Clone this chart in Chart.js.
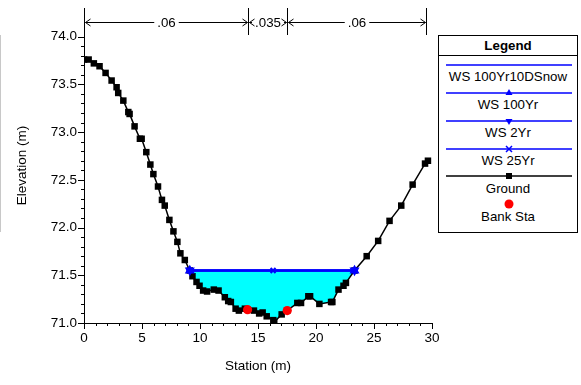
<!DOCTYPE html>
<html>
<head>
<meta charset="utf-8">
<script src="https://cdn.jsdelivr.net/npm/chart.js@4/dist/chart.umd.min.js"></script>
<style>
  html, body { margin: 0; padding: 0; background: #fff; }
  #wrap { position: relative; width: 581px; height: 385px; overflow: hidden;
          font-family: "Liberation Sans", Arial, sans-serif; color: #000; }
  #c { position: absolute; left: 0; top: 0; }
  #edge { position: absolute; left: 0; top: 35px; width: 1px; height: 197px; background: #c8c8c8; }
  #legend { position: absolute; left: 438px; top: 35px; width: 140px; height: 198px;
            box-sizing: border-box; border: 1px solid #000; background: #fff; }
  #legend .title { position: absolute; left: 0; top: 0; width: 100%; height: 20px; line-height: 19px;
                   text-align: center; font-weight: bold; font-size: 13.3px; border-bottom: 1px solid #000;
                   box-sizing: border-box; }
  #legend .item { position: absolute; left: 0; width: 100%; text-align: center; font-size: 13.3px;
                  line-height: 16px; white-space: nowrap; }
  #legend svg { position: absolute; left: 0; top: 0; }
</style>
</head>
<body>
<div id="wrap">
  <canvas id="c" width="581" height="385"></canvas>
  <div id="edge"></div>
  <div id="legend"><div class="title">Legend</div></div>
</div>
<script>
// Ground profile: station (m) and elevation (m)
const stations = [
  0.0, 0.4, 0.85, 1.34, 1.86, 2.38, 2.81, 2.95, 3.39, 3.82, 3.93, 4.36, 4.82, 4.97,
  5.37, 5.72, 5.98, 6.38, 6.72, 6.96, 7.36, 7.71, 8.05, 8.31, 8.69, 9.12, 9.35, 9.70,
  9.96, 10.27, 10.61, 11.19, 11.60, 12.14, 12.43, 12.66, 13.07, 13.35, 13.87, 14.10,
  14.65, 15.10, 15.40, 15.75, 16.32, 16.40, 17.04, 17.52, 18.39, 18.71, 19.34, 19.49,
  20.29, 21.30, 21.41, 21.94, 22.37, 22.58, 23.32, 24.37, 25.36, 26.34, 27.35, 28.33,
  29.40, 29.65
];
const elevations = [
  73.76, 73.76, 73.72, 73.69, 73.62, 73.54, 73.47, 73.41, 73.33, 73.21, 73.19, 73.06, 72.93, 72.93,
  72.79, 72.66, 72.56, 72.43, 72.29, 72.23, 72.08, 71.96, 71.85, 71.73, 71.66, 71.55, 71.49, 71.43,
  71.39, 71.34, 71.33, 71.35, 71.34, 71.27, 71.23, 71.22, 71.15, 71.13, 71.15, 71.14,
  71.13, 71.10, 71.11, 71.07, 71.03, 71.01, 71.09, 71.13, 71.21, 71.21, 71.28, 71.28,
  71.20, 71.22, 71.22, 71.35, 71.39, 71.42, 71.55, 71.70, 71.86, 72.07, 72.23, 72.45,
  72.67, 72.70
];

// Bank stations
const bankStations = [14.10, 17.52];
const bankElevations = [71.14, 71.13];

// Water surface (all profiles coincide)
const wsStations = [9.12, 16.30, 23.32];
const wsElevations = [71.55, 71.55, 71.55];

// Manning's n zones
const nStations = [0, 14.10, 17.52, 29.5];
const nValues = ['.06', '.035', '.06'];

// Axis ticks
const xTicks = [0, 5, 10, 15, 20, 25, 30];
const yTicks = [71.0, 71.5, 72.0, 72.5, 73.0, 73.5, 74.0];

const seriesNames = ['WS 100Yr10DSnow', 'WS 100Yr', 'WS 2Yr', 'WS 25Yr', 'Ground', 'Bank Sta'];

const BLUE = '#0000ff';
const FONT = '"Liberation Sans", Arial, sans-serif';

const pts = (xs, ys) => xs.map((v, i) => ({ x: v, y: ys[i] }));

// Minor/major tick marks and the Manning's n bar across the top
const decorations = {
  id: 'decorations',
  afterDraw(chart) {
    const { ctx, chartArea: a } = chart;
    const x = chart.scales.x, y = chart.scales.y;
    ctx.save();
    ctx.strokeStyle = '#000';
    ctx.lineWidth = 1;
    ctx.beginPath();
    for (let v = xTicks[0]; v <= xTicks[xTicks.length - 1]; v += 1) {
      const px = Math.round(x.getPixelForValue(v)) + 0.5;
      const len = (v % 5 === 0) ? 6 : 3;
      ctx.moveTo(px, a.bottom);
      ctx.lineTo(px, a.bottom + len);
    }
    const y0 = yTicks[0], y1 = yTicks[yTicks.length - 1];
    const steps = Math.round((y1 - y0) / 0.1);
    for (let k = 0; k <= steps; k++) {
      const py = Math.round(y.getPixelForValue(y0 + k * 0.1)) + 0.5;
      const len = (k % 5 === 0) ? 6 : 3;
      ctx.moveTo(a.left, py);
      ctx.lineTo(a.left - len, py);
    }
    ctx.stroke();

    // Manning's n zones
    const lineY = 22.5;
    ctx.font = '13.3px ' + FONT;
    ctx.fillStyle = '#000';
    ctx.textAlign = 'center';
    ctx.textBaseline = 'middle';
    ctx.beginPath();
    const nPx = nStations.map(s => Math.round(x.getPixelForValue(s)) + 0.5);
    nPx.forEach(px => { ctx.moveTo(px, 8); ctx.lineTo(px, 35); });
    for (let i = 0; i < nValues.length; i++) {
      const x0 = nPx[i], x1 = nPx[i + 1];
      const mid = (x0 + x1) / 2;
      const w = ctx.measureText(nValues[i]).width;
      const gap = w / 2 + 3;
      if (mid - gap > x0 + 2) {
        ctx.moveTo(x0 + 1, lineY); ctx.lineTo(mid - gap, lineY);
        ctx.moveTo(mid + gap, lineY); ctx.lineTo(x1 - 1, lineY);
      }
      ctx.moveTo(x0 + 6, lineY - 3.5); ctx.lineTo(x0 + 1, lineY); ctx.lineTo(x0 + 6, lineY + 3.5);
      ctx.moveTo(x1 - 6, lineY - 3.5); ctx.lineTo(x1 - 1, lineY); ctx.lineTo(x1 - 6, lineY + 3.5);
      ctx.fillText(nValues[i], mid, lineY + 1);
    }
    ctx.stroke();
    ctx.restore();
  }
};

const chart = new Chart(document.getElementById('c'), {
  type: 'scatter',
  data: {
    datasets: [
      {
        label: seriesNames[5], data: pts(bankStations, bankElevations),
        showLine: false, pointStyle: 'circle', pointRadius: 4.6,
        backgroundColor: '#ff0000', borderColor: '#ff0000', borderWidth: 0, order: 0
      },
      {
        label: seriesNames[3], data: pts(wsStations, wsElevations),
        showLine: true, borderColor: BLUE, borderWidth: 2, backgroundColor: BLUE,
        pointStyle: 'crossRot', pointRadius: [0, 3.5, 0], pointBorderWidth: 2, order: 1
      },
      {
        label: seriesNames[2], data: pts(wsStations, wsElevations),
        showLine: true, borderColor: BLUE, borderWidth: 2, backgroundColor: BLUE,
        pointStyle: 'triangle', rotation: 180, pointRadius: [3.8, 0, 3.8], order: 2
      },
      {
        label: seriesNames[1], data: pts(wsStations, wsElevations),
        showLine: true, borderColor: BLUE, borderWidth: 2, backgroundColor: BLUE,
        pointStyle: 'triangle', pointRadius: [3.8, 0, 3.8], order: 3
      },
      {
        label: seriesNames[4], data: pts(stations, elevations),
        showLine: true, borderColor: '#000', borderWidth: 1.5, backgroundColor: '#000',
        pointStyle: 'rect', pointRadius: 4.6, pointBorderWidth: 0, order: 4
      },
      {
        label: seriesNames[0], data: pts(wsStations, wsElevations),
        showLine: true, borderColor: BLUE, borderWidth: 2, pointRadius: 0,
        fill: { target: 4, above: '#00ffff', below: '#00ffff' }, order: 5
      }
    ]
  },
  options: {
    responsive: false,
    animation: false,
    events: [],
    layout: { padding: { left: 0, top: 8, right: 149, bottom: 0 } },
    plugins: { legend: { display: false }, tooltip: { enabled: false } },
    scales: {
      x: {
        type: 'linear', min: xTicks[0], max: xTicks[xTicks.length - 1],
        afterBuildTicks: s => { s.ticks = xTicks.map(v => ({ value: v })); },
        afterFit: s => { s.height = 62; s.paddingLeft = 0; s.paddingRight = 0; },
        grid: { display: false, drawTicks: false },
        border: { display: true, color: '#000', width: 1 },
        ticks: { color: '#000', padding: 7, maxRotation: 0, font: { family: FONT, size: 13.5 },
                 callback: v => String(v) },
        title: { display: true, text: 'Station (m)', color: '#000',
                 font: { family: FONT, size: 13.5 }, padding: { top: 0, bottom: 11 } }
      },
      y: {
        type: 'linear', min: 71.0, max: 74.3,
        afterBuildTicks: s => { s.ticks = yTicks.map(v => ({ value: v })); },
        afterFit: s => { s.width = 84; s.paddingTop = 0; s.paddingBottom = 0; },
        grid: { display: false, drawTicks: false },
        border: { display: true, color: '#000', width: 1 },
        ticks: { color: '#000', padding: 7, font: { family: FONT, size: 13.5 },
                 callback: v => Number(v).toFixed(1) },
        title: { display: true, text: 'Elevation (m)', color: '#000',
                 font: { family: FONT, size: 13.5 }, padding: { top: 14, bottom: 0 } }
      }
    }
  },
  plugins: [decorations]
});

// Legend panel built from the series names
(function buildLegend() {
  const box = document.getElementById('legend');
  const NS = 'http://www.w3.org/2000/svg';
  const svg = document.createElementNS(NS, 'svg');
  svg.setAttribute('width', '140');
  svg.setAttribute('height', '198');
  const lineYs = [29, 57, 85, 113, 140];
  const colors = [BLUE, BLUE, BLUE, BLUE, '#000'];
  const cx = 70;
  lineYs.forEach((ly, i) => {
    const l = document.createElementNS(NS, 'line');
    l.setAttribute('x1', 7); l.setAttribute('x2', 133);
    l.setAttribute('y1', ly); l.setAttribute('y2', ly);
    l.setAttribute('stroke', colors[i]); l.setAttribute('stroke-width', 1.5);
    svg.appendChild(l);
  });
  const mk = (tag, attrs) => { const e = document.createElementNS(NS, tag);
    for (const k in attrs) e.setAttribute(k, attrs[k]); svg.appendChild(e); };
  mk('polygon', { points: `${cx},${57 - 4} ${cx - 3.5},${57 + 2} ${cx + 3.5},${57 + 2}`, fill: BLUE });
  mk('polygon', { points: `${cx},${85 + 4} ${cx - 3.5},${85 - 2} ${cx + 3.5},${85 - 2}`, fill: BLUE });
  mk('path', { d: `M${cx - 3},${113 - 3} L${cx + 3},${113 + 3} M${cx - 3},${113 + 3} L${cx + 3},${113 - 3}`,
               stroke: BLUE, 'stroke-width': 1.5 });
  mk('rect', { x: cx - 3, y: 140 - 3, width: 6, height: 6, fill: '#000' });
  mk('circle', { cx: cx, cy: 168, r: 4.5, fill: '#ff0000' });
  box.appendChild(svg);
  const textYs = [41, 69, 97, 125, 153, 181];
  seriesNames.forEach((name, i) => {
    const d = document.createElement('div');
    d.className = 'item';
    d.style.top = (textYs[i] - 8) + 'px';
    d.textContent = name;
    box.appendChild(d);
  });
})();
</script>
</body>
</html>
